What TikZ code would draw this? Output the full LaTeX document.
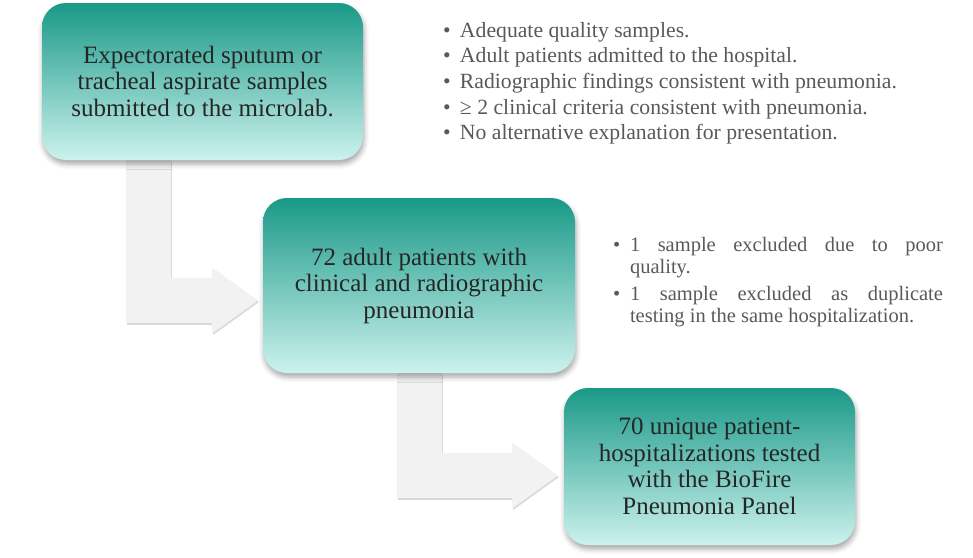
\documentclass[tikz,border=0pt]{standalone}
\usepackage{fontspec}
\setmainfont{Liberation Serif}
\usetikzlibrary{arrows.meta,shadows.blur,backgrounds}
\definecolor{tealtop}{HTML}{1A9988}
\definecolor{tealbot}{HTML}{CCF2ED}
\definecolor{boxtext}{HTML}{262626}
\definecolor{listtext}{HTML}{595959}
\definecolor{arrowfill}{HTML}{F2F2F2}
\definecolor{arrowedge}{HTML}{D9D9D9}
\newcommand{\dotbox}{\makebox[17pt][l]{\textbullet}}

\begin{document}
\begin{tikzpicture}[x=1pt, y=-1pt,
    stepbox/.style={rounded corners=24pt, top color=tealtop, bottom color=tealbot, text=boxtext,
      align=center, inner sep=0pt, outer sep=0pt, font=\fontsize{25}{26.5}\selectfont,
      blur shadow={shadow xshift=1pt, shadow yshift=-4pt, shadow blur radius=5pt, shadow opacity=35}},
    notes/.style={anchor=north west, inner sep=0pt, outer sep=0pt, text=listtext, align=left},
    bent/.style={line width=45pt, line join=miter, -{Triangle[length=46pt, width=66pt, line width=0pt]}}]
  \useasboundingbox (0,0) rectangle (973,557);
  \node[stepbox, minimum width=321pt, minimum height=157pt] (samples) at (202.5,81.5)
    {Expectorated sputum or\\tracheal aspirate samples\\submitted to the microlab.};
  \node[stepbox, minimum width=312pt, minimum height=175pt] (adults) at (419,285.5)
    {72 adult patients with\\clinical and radiographic\\pneumonia};
  \node[stepbox, minimum width=291pt, minimum height=157pt] (tested) at (709.5,466.5)
    {70 unique patient-\\hospitalizations tested\\with the BioFire\\Pneumonia Panel};
  \node[notes, font=\fontsize{21.7}{25.7}\selectfont] (criteria) at (443,22)
    {\dotbox Adequate quality samples.\\
     \dotbox Adult patients admitted to the hospital.\\
     \dotbox Radiographic findings consistent with pneumonia.\\
     \dotbox ≥ 2 clinical criteria consistent with pneumonia.\\
     \dotbox No alternative explanation for presentation.};
  \node[notes, font=\fontsize{20.5}{21.3}\selectfont] (excluded) at (613,237.6)
    {\dotbox\makebox[313pt][s]{1 sample excluded due to poor}\\
     \hspace*{17pt}quality.\\[6.4pt]
     \dotbox\makebox[313pt][s]{1 sample excluded as duplicate}\\
     \hspace*{17pt}testing in the same hospitalization.};
  \begin{scope}[on background layer]
    \draw[bent, arrowedge, transform canvas={xshift=1pt, yshift=-1.5pt}]
      ([xshift=106pt]samples.south west) |- ([xshift=-5pt, yshift=-15pt]adults.west);
    \draw[bent, arrowfill] ([xshift=106pt]samples.south west) |- ([xshift=-5pt, yshift=-15pt]adults.west);
    \draw[bent, arrowedge, transform canvas={xshift=1pt, yshift=-1.5pt}]
      ([xshift=0.5pt]adults.south) |- ([xshift=-6pt, yshift=-9pt]tested.west);
    \draw[bent, arrowfill] ([xshift=0.5pt]adults.south) |- ([xshift=-6pt, yshift=-9pt]tested.west);
  \end{scope}
\end{tikzpicture}
\end{document}
